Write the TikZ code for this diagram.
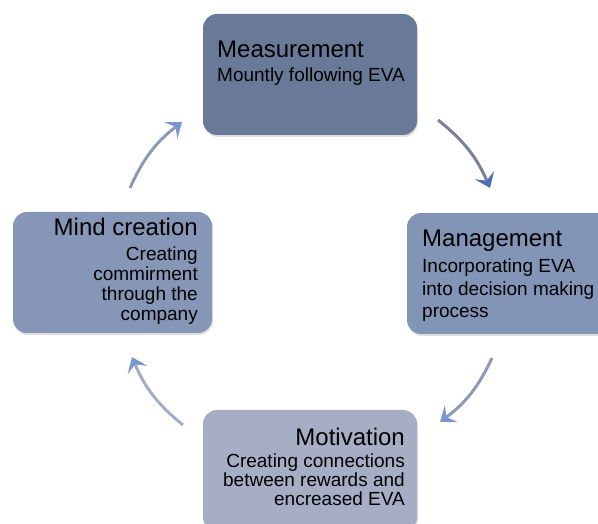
\documentclass[tikz,border=0pt]{standalone}
\usepackage{fontspec}
\setmainfont{Liberation Sans}
\usetikzlibrary{arrows.meta, shadows}

\definecolor{measfill}{RGB}{104,122,151}
\definecolor{mgmtfill}{RGB}{131,149,182}
\definecolor{mindfill}{RGB}{133,150,183}
\definecolor{motivfill}{RGB}{166,173,197}
\definecolor{shaftgrey}{RGB}{140,154,184}
\definecolor{headblue}{RGB}{122,150,208}
\definecolor{darkhead}{RGB}{76,112,180}

\newcommand{\stagetitle}[1]{{\fontsize{24}{26}\selectfont #1}}

\tikzset{
    stage/.style={rounded corners=14pt, minimum width=214pt, minimum height=121pt,
        inner sep=0pt, drop shadow={shadow xshift=1pt, shadow yshift=-2pt, opacity=0.25}},
    stagetext/.style={inner sep=0pt, font=\fontsize{19}{20}\selectfont},
    cycle arrow/.style={line width=3pt, draw=shaftgrey, bend left=14,
        -{Stealth[length=14pt, width=21pt, inset=6pt, color=headblue]}}
}

\begin{document}
\begin{tikzpicture}[x=1pt, y=1pt]
    \useasboundingbox (0, 0) rectangle (598, 524);
    \clip (0, 0) rectangle (598, 524);

    % the four stages
    \node[stage, fill=measfill] (meas) at (310, 449.5) {};
    \node[stage, fill=mgmtfill] (mgmt) at (514, 250.5) {};
    \node[stage, fill=motivfill] (motiv) at (310, 53.5) {};
    \node[stage, fill=mindfill, minimum width=199pt] (mind) at (112.5, 251.5) {};

    % texts sit on the baseline of their last line
    \node[stagetext, anchor=base west, align=left] (meastext) at (217, 442)
        {\stagetitle{Measurement}\\[4pt] Mountly following EVA};
    \node[stagetext, anchor=base west, align=left, font=\fontsize{19}{22.5}\selectfont] (mgmttext) at (422, 206)
        {\stagetitle{Management}\\[3.5pt] Incorporating EVA\\ into decision making\\ process};
    \node[stagetext, anchor=base east, align=right, font=\fontsize{19}{19}\selectfont] (motivtext) at (405, 18)
        {\stagetitle{Motivation}\\[3pt] Creating connections\\ between rewards and\\ encreased EVA};
    \node[stagetext, anchor=base east, align=right] (mindtext) at (198, 203)
        {\stagetitle{Mind creation}\\[5pt] Creating\\ commirment\\ through the\\ company};

    % arrow ends
    \coordinate (tr0) at (438, 404);
    \coordinate (tr1) at (490, 336);
    \coordinate (br0) at (492, 166);
    \coordinate (br1) at (440, 102);
    \coordinate (bl0) at (183, 99);
    \coordinate (bl1) at (132, 167);
    \coordinate (tl0) at (130, 336);
    \coordinate (tl1) at (182, 402);

    \draw[cycle arrow, draw=shaftgrey!85!black, -{Stealth[length=14pt, width=21pt, inset=6pt, color=darkhead]}] (tr0) to (tr1);
    \draw[cycle arrow] (br0) to (br1);
    \draw[cycle arrow, draw=shaftgrey!80] (bl0) to (bl1);
    \draw[cycle arrow] (tl0) to (tl1);
\end{tikzpicture}
\end{document}
